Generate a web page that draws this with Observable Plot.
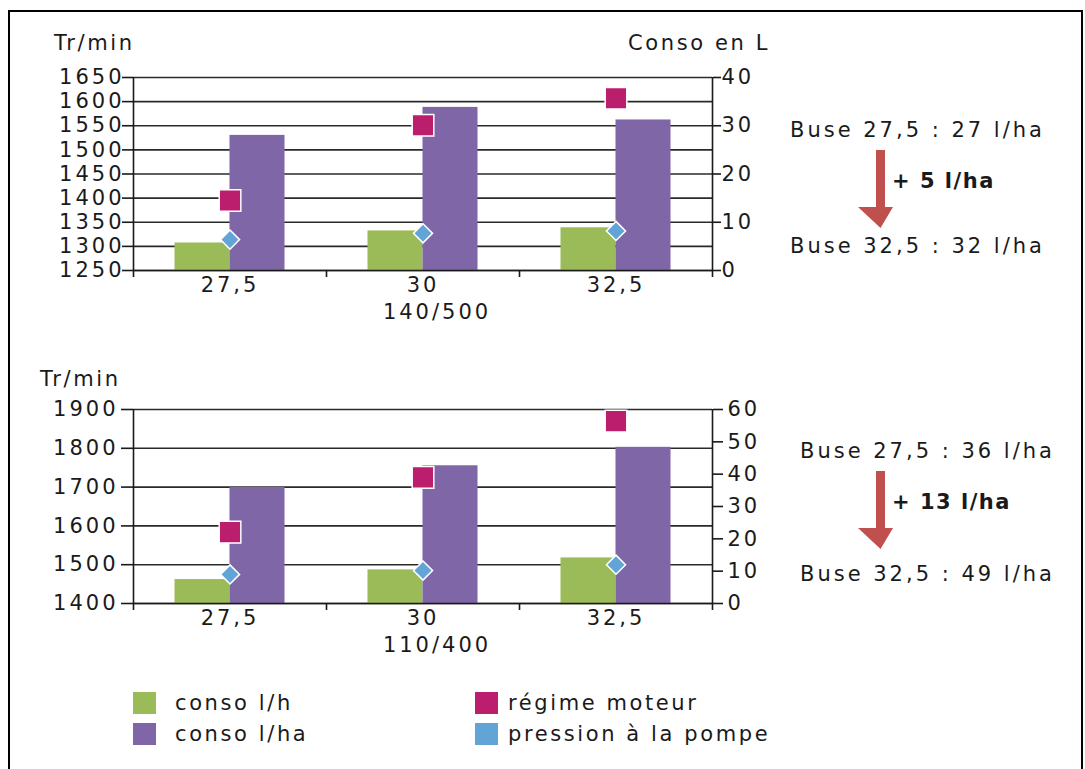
<!DOCTYPE html>
<html>
<head>
<meta charset="utf-8">
<script src="https://cdn.jsdelivr.net/npm/d3@7"></script>
<script src="https://cdn.jsdelivr.net/npm/@observablehq/plot@0.6"></script>
<style>
  body { margin: 0; background: #fff; font-family: "DejaVu Sans", sans-serif; color: #1a1a1a; }
  #page { position: relative; width: 1085px; height: 769px; overflow: hidden; background: #fff; }
  #frame { position: absolute; left: 8px; top: 10px; width: 1075px; height: 800px; border: 2px solid #000; box-sizing: border-box; }
  .abs { position: absolute; white-space: nowrap; font-size: 21px; letter-spacing: 2.6px; line-height: 1; }
  .chart { position: absolute; left: 0; }
  .note { position: absolute; white-space: nowrap; font-size: 21px; letter-spacing: 3px; line-height: 1; }
  .bold { font-weight: bold; letter-spacing: 1.5px; }
  .lg { position: absolute; width: 23px; height: 22px; }
</style>
</head>
<body>
<div id="page">
  <div id="frame"></div>
  <div class="abs" style="left:54px;top:33px;">Tr/min</div>
  <div class="abs" style="right:315px;top:33px;">Conso en L</div>
  <div class="abs" style="left:40px;top:369px;">Tr/min</div>
  <div id="chart1" class="chart" style="top:57px;"></div>
  <div id="chart2" class="chart" style="top:389px;"></div>
  <div id="notes"></div>
  <div id="legend"></div>
</div>
<script>
// ---- data ----
const categories = [27.5, 30, 32.5];
const categoryLabels = ["27,5", "30", "32,5"];
const seriesNames = ["conso l/h", "conso l/ha", "régime moteur", "pression à la pompe"];
const seriesColors = ["#9BBB59", "#7F66A6", "#BC1E6E", "#63A4D6"];

// chart 1 : 140/500
const c1_consoLh = [5.7, 8.2, 8.85];
const c1_consoLha = [28.0, 33.8, 31.2];
const c1_regime = [1395, 1551, 1607];
const c1_pression = [6.4, 7.7, 8.2];
const c1_rpmTicks = [1250, 1300, 1350, 1400, 1450, 1500, 1550, 1600, 1650];
const c1_lTicks = [0, 10, 20, 30, 40];
const c1_label = "140/500";
const c1_notes = ["Buse 27,5 : 27 l/ha", "+ 5 l/ha", "Buse 32,5 : 32 l/ha"];

// chart 2 : 110/400
const c2_consoLh = [7.4, 10.4, 14.1];
const c2_consoLha = [35.9, 42.6, 48.3];
const c2_regime = [1584, 1725, 1870];
const c2_pression = [9.0, 10.2, 12.0];
const c2_rpmTicks = [1400, 1500, 1600, 1700, 1800, 1900];
const c2_lTicks = [0, 10, 20, 30, 40, 50, 60];
const c2_label = "110/400";
const c2_notes = ["Buse 27,5 : 36 l/ha", "+ 13 l/ha", "Buse 32,5 : 49 l/ha"];

function chart(o) {
  const rpmMin = o.rpmTicks[0], rpmMax = o.rpmTicks[o.rpmTicks.length - 1];
  const lMax = o.lTicks[o.lTicks.length - 1];
  const toL = r => (r - rpmMin) / (rpmMax - rpmMin) * lMax;
  const toRpm = l => String(Math.round(rpmMin + l / lMax * (rpmMax - rpmMin)));
  const rows = categories.map((c, i) => ({
    cat: c, lh: o.lh[i], lha: o.lha[i], regime: o.regime[i], pression: o.pression[i]
  }));
  const step = categories[1] - categories[0];
  const bw = step * 0.285;
  const bounds = [categories[0] - step / 2, ...categories.map(c => c + step / 2)];
  const gridL = o.rpmTicks.map(toL);
  return Plot.plot({
    width: 800,
    height: o.height,
    marginTop: 20,
    marginLeft: 133,
    marginRight: 88,
    marginBottom: 60,
    style: { fontFamily: "DejaVu Sans", fontSize: "21px", color: "#1a1a1a", letterSpacing: "3px", background: "transparent" },
    x: { domain: [bounds[0], bounds[bounds.length - 1]] },
    y: { domain: [0, lMax] },
    marks: [
      Plot.ruleY(gridL, { stroke: "#2a2a2a", strokeWidth: 1.6 }),
      Plot.rectY(rows, { x1: d => d.cat - bw, x2: d => d.cat, y1: 0, y2: "lh", fill: seriesColors[0] }),
      Plot.rectY(rows, { x1: d => d.cat, x2: d => d.cat + bw, y1: 0, y2: "lha", fill: seriesColors[1] }),
      Plot.ruleX([bounds[0], bounds[bounds.length - 1]], { y1: 0, y2: lMax, stroke: "#1a1a1a", strokeWidth: 1.6 }),
      Plot.ruleY([0], { stroke: "#1a1a1a", strokeWidth: 1.6 }),
      Plot.dot(rows, { x: "cat", y: d => toL(d.regime), symbol: "square", r: 12.2, fill: seriesColors[2], stroke: "white", strokeWidth: 1.5 }),
      Plot.dot(rows, { x: "cat", y: "pression", symbol: "diamond2", r: 8.6, fill: seriesColors[3], stroke: "white", strokeWidth: 1.5 }),
      Plot.axisY({ anchor: "left", ticks: gridL, tickFormat: toRpm, tickSize: o.leftTickSize, tickPadding: o.leftPad, label: null, stroke: "#1a1a1a", strokeWidth: 1.6 }),
      Plot.axisY({ anchor: "right", ticks: o.lTicks, tickFormat: d => String(d), tickSize: o.rightTickSize, tickPadding: o.rightPad, label: null, stroke: "#1a1a1a", strokeWidth: 1.6 }),
      Plot.axisX({ ticks: bounds, tickFormat: () => "", tickSize: 7, label: null, stroke: "#1a1a1a", strokeWidth: 1.6 }),
      Plot.axisX({ ticks: categories, tickFormat: d => categoryLabels[categories.indexOf(d)], tickSize: 0, tickPadding: 7, label: null }),
      Plot.text([o.label], { x: () => categories[1], text: d => d, frameAnchor: "bottom", dy: 48, dx: 14, fontSize: 21 })
    ]
  });
}

document.getElementById("chart1").append(chart({
  lh: c1_consoLh, lha: c1_consoLha, regime: c1_regime, pression: c1_pression,
  rpmTicks: c1_rpmTicks, lTicks: c1_lTicks, label: c1_label, height: 273,
  leftTickSize: 11, leftPad: -2, rightTickSize: 8, rightPad: 1
}));
document.getElementById("chart2").append(chart({
  lh: c2_consoLh, lha: c2_consoLha, regime: c2_regime, pression: c2_pression,
  rpmTicks: c2_rpmTicks, lTicks: c2_lTicks, label: c2_label, height: 274,
  leftTickSize: 12, leftPad: 3, rightTickSize: 10, rightPad: 5
}));

// annotations (right side)
function notes(n, center, left, midOff, lowOff) {
  const el = document.getElementById("notes");
  const mk = (txt, cls, x, y) => {
    const d = document.createElement("div");
    d.className = "note " + cls; d.textContent = txt;
    d.style.left = x + "px"; d.style.top = (y - 11) + "px";
    el.append(d);
  };
  mk(n[0], "", left, center);
  mk(n[1], "bold", 892, center + midOff);
  mk(n[2], "", left, center + lowOff);
  const svgNS = "http://www.w3.org/2000/svg";
  const s = document.createElementNS(svgNS, "svg");
  s.setAttribute("width", 40); s.setAttribute("height", 80);
  s.style.position = "absolute"; s.style.left = "855px"; s.style.top = (center + 19) + "px";
  const p = document.createElementNS(svgNS, "path");
  p.setAttribute("d", "M21,0 H30 V57 H38 L25.5,78 L3,57 H21 Z");
  p.setAttribute("fill", "#C0504D");
  s.append(p);
  el.append(s);
}
notes(c1_notes, 131, 790, 51, 116);
notes(c2_notes, 452, 800, 51, 123);

// legend
const lg = document.getElementById("legend");
const lpos = [[133, 692], [133, 723], [475, 692], [475, 723]];
seriesNames.forEach((name, i) => {
  const [x, y] = lpos[i];
  const sw = document.createElement("div");
  sw.className = "lg"; sw.style.left = x + "px"; sw.style.top = y + "px"; sw.style.background = seriesColors[i];
  lg.append(sw);
  const t = document.createElement("div");
  t.className = "abs"; t.textContent = name;
  t.style.left = (x + (i < 2 ? 42 : 33)) + "px"; t.style.top = (y + 1) + "px";
  lg.append(t);
});
</script>
</body>
</html>
